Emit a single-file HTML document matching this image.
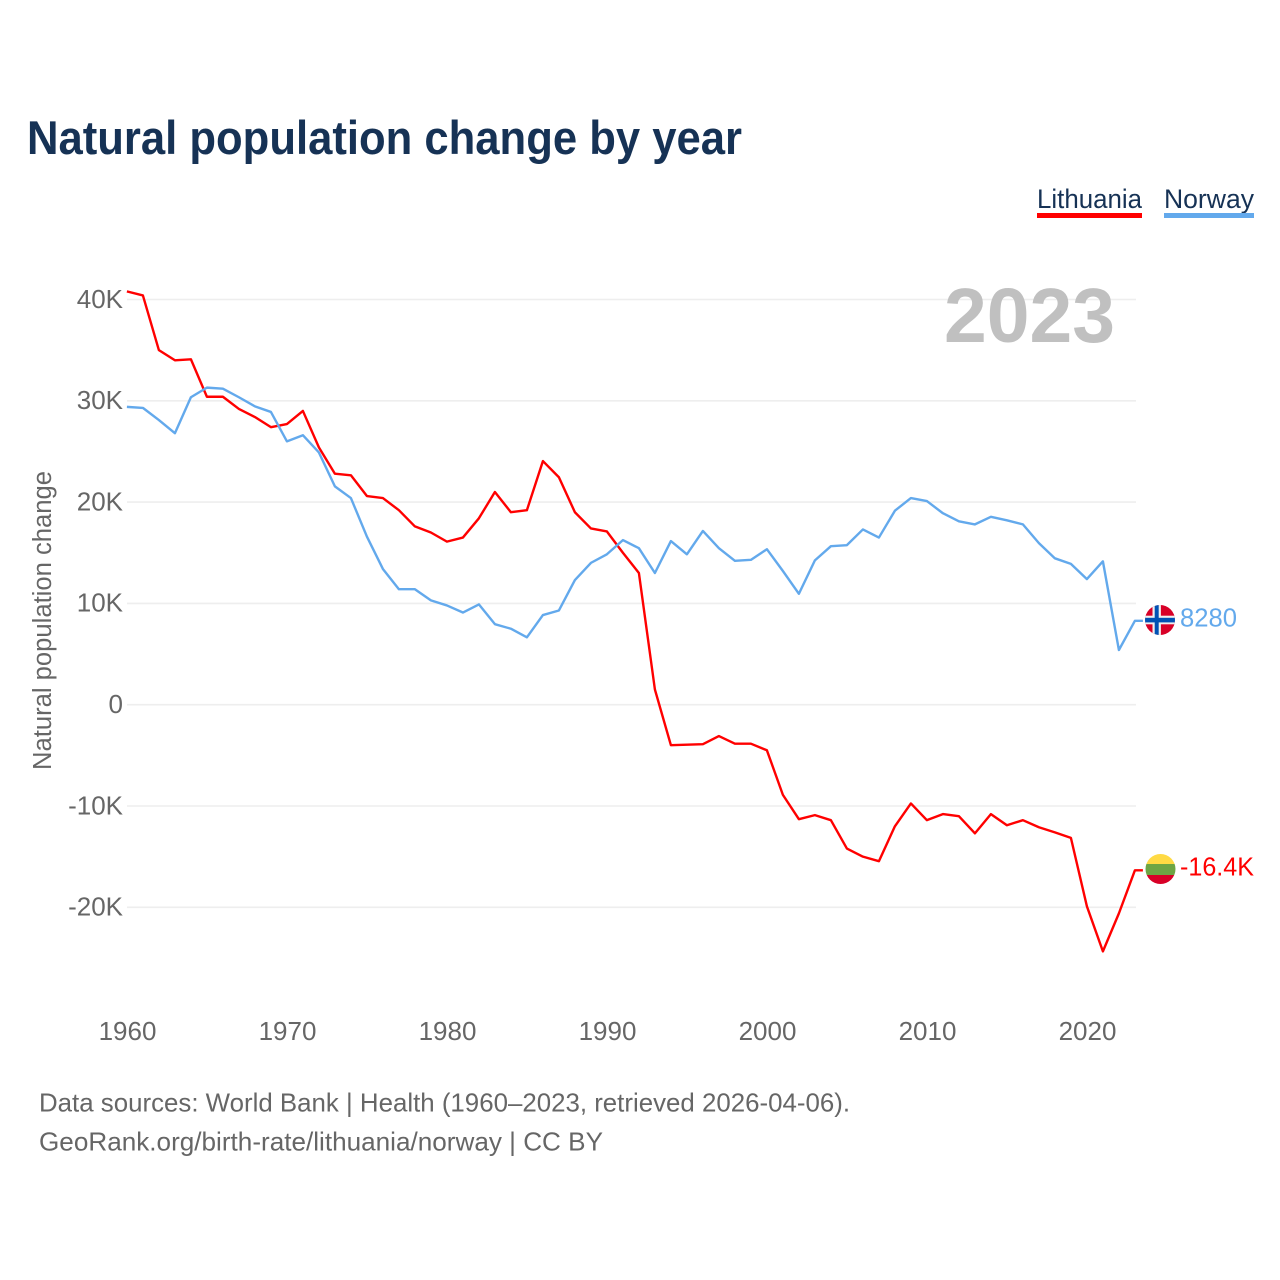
<!DOCTYPE html>
<html lang="en">
<head>
<meta charset="utf-8">
<title>Natural population change by year</title>
<style>
html,body{margin:0;padding:0;background:#fff;width:1280px;height:1280px;overflow:hidden}
svg{display:block}
text{font-family:"Liberation Sans",sans-serif}
</style>
</head>
<body>
<svg id="chart" xmlns="http://www.w3.org/2000/svg" width="1280" height="1280" viewBox="0 0 1280 1280">
  <defs>
    <clipPath id="flag-clip-no"><circle id="clip-no" cx="1160" cy="620" r="15"/></clipPath>
    <clipPath id="flag-clip-lt"><circle id="clip-lt" cx="1160.5" cy="869" r="15"/></clipPath>
  </defs>
  <rect width="1280" height="1280" fill="#fff"/>
  <text x="27" y="154" font-size="47" font-weight="700" fill="#163255" textLength="715" lengthAdjust="spacingAndGlyphs">Natural population change by year</text>

  <g>
    <g>
      <text x="1037" y="208" font-size="27" fill="#163255" textLength="105" lengthAdjust="spacingAndGlyphs">Lithuania</text>
      <rect x="1037" y="213" width="105" height="5" fill="#ff0000"/>
    </g>
    <g>
      <text x="1164" y="208" font-size="27" fill="#163255" textLength="90" lengthAdjust="spacingAndGlyphs">Norway</text>
      <rect x="1164" y="213" width="90" height="5" fill="#63a9ec"/>
    </g>
  </g>

  <g id="grid"></g>
  <g id="y-ticks"></g>
  <g id="x-ticks"></g>

  <text x="944" y="342" font-size="77" font-weight="700" fill="#c0c0c0" textLength="171" lengthAdjust="spacingAndGlyphs">2023</text>

  <text transform="translate(51,770) rotate(-90)" font-size="25.5" fill="#666" textLength="299" lengthAdjust="spacingAndGlyphs">Natural population change</text>

  <g id="series"></g>

  <g clip-path="url(#flag-clip-no)">
    <rect x="1145" y="605" width="31" height="30" fill="#d80027"/>
    <rect x="1145" y="615.7" width="31" height="8.6" fill="#f0f0f0"/>
    <rect x="1152.5" y="605" width="8.4" height="30" fill="#f0f0f0"/>
    <rect x="1145" y="617.8" width="31" height="4.6" fill="#0052b4"/>
    <rect x="1154.7" y="605" width="4" height="30" fill="#0052b4"/>
  </g>
  <g clip-path="url(#flag-clip-lt)">
    <rect x="1145" y="854" width="31" height="10" fill="#ffda44"/>
    <rect x="1145" y="864" width="31" height="11" fill="#6da544"/>
    <rect x="1145" y="875" width="31" height="10" fill="#d80027"/>
  </g>
  <text id="end-label-norway" x="1180" y="626.5" font-size="26" fill="#63a9ec" textLength="57" lengthAdjust="spacingAndGlyphs"></text>
  <text id="end-label-lithuania" x="1180" y="875.5" font-size="26" fill="#ff0000" textLength="74" lengthAdjust="spacingAndGlyphs"></text>

  <g>
    <text x="39" y="1111.5" font-size="26" fill="#666" textLength="811" lengthAdjust="spacingAndGlyphs">Data sources: World Bank | Health (1960–2023, retrieved 2026-04-06).</text>
    <text x="39" y="1150.5" font-size="26" fill="#666" textLength="564" lengthAdjust="spacingAndGlyphs">GeoRank.org/birth-rate/lithuania/norway | CC BY</text>
  </g>
</svg>
<script>
const startYear = 1960;
const lithuania = [40.8,40.4,35.0,34.0,34.1,30.4,30.4,29.2,28.4,27.4,27.7,29.0,25.4,22.8,22.65,20.6,20.4,19.2,17.6,17.0,16.1,16.5,18.4,21.0,19.0,19.2,24.05,22.45,19.0,17.4,17.1,15.0,13.0,1.5,-4.0,-3.95,-3.9,-3.1,-3.85,-3.85,-4.5,-8.9,-11.3,-10.9,-11.4,-14.2,-15.0,-15.45,-12.0,-9.75,-11.4,-10.8,-11.0,-12.7,-10.8,-11.9,-11.4,-12.1,-12.6,-13.15,-19.9,-24.35,-20.6,-16.35];
const norway = [29.4,29.3,28.1,26.8,30.35,31.3,31.2,30.35,29.45,28.9,26.0,26.6,24.9,21.55,20.4,16.6,13.4,11.4,11.4,10.3,9.8,9.1,9.9,7.95,7.5,6.65,8.85,9.3,12.3,14.0,14.85,16.25,15.45,13.0,16.15,14.85,17.15,15.45,14.2,14.3,15.35,13.2,10.95,14.25,15.65,15.75,17.3,16.5,19.15,20.4,20.1,18.9,18.1,17.8,18.55,18.2,17.8,15.95,14.45,13.9,12.4,14.15,5.4,8.28];
const yTickValues = [40,30,20,10,0,-10,-20];
const yTickLabels = ["40K","30K","20K","10K","0","-10K","-20K"];
const xTickYears = [1960,1970,1980,1990,2000,2010,2020];
const endLabelNorway = "8280";
const endLabelLithuania = "-16.4K";

const SVGNS = "http://www.w3.org/2000/svg";
function xScale(year){ return 126.9 + (year - 1960) * 16.0; }
function yScale(v){ return 704.7 - v * 10.13; }

const grid = document.getElementById("grid");
const yTicks = document.getElementById("y-ticks");
const xTicks = document.getElementById("x-ticks");
const seriesGroup = document.getElementById("series");

yTickValues.forEach(function(v, i){
  const line = document.createElementNS(SVGNS, "line");
  
  
  line.setAttribute("x1", 127);
  line.setAttribute("x2", 1136);
  line.setAttribute("y1", yScale(v));
  line.setAttribute("y2", yScale(v));
  line.setAttribute("stroke", "#eeeeee");
  line.setAttribute("stroke-width", 1.6);
  grid.appendChild(line);

  const t = document.createElementNS(SVGNS, "text");
  
  
  t.setAttribute("x", 123);
  t.setAttribute("y", yScale(v) + 8.3);
  t.setAttribute("text-anchor", "end");
  t.setAttribute("font-size", 26);
  t.setAttribute("fill", "#666");
  t.textContent = yTickLabels[i];
  yTicks.appendChild(t);
});

xTickYears.forEach(function(year){
  const t = document.createElementNS(SVGNS, "text");
  
  
  t.setAttribute("x", xScale(year) + 0.6);
  t.setAttribute("y", 1040);
  t.setAttribute("text-anchor", "middle");
  t.setAttribute("font-size", 26);
  t.setAttribute("fill", "#666");
  t.textContent = String(year);
  xTicks.appendChild(t);
});

function pathFor(values){
  const pts = values.map(function(v, i){
    return xScale(startYear + i).toFixed(2) + "," + yScale(v).toFixed(2);
  });
  const lastY = yScale(values[values.length - 1]).toFixed(2);
  const lastX = xScale(startYear + values.length - 1) + 8;
  return "M" + pts.join("L") + "L" + lastX.toFixed(2) + "," + lastY;
}

const lineLithuania = document.createElementNS(SVGNS, "path");


lineLithuania.setAttribute("d", pathFor(lithuania));
lineLithuania.setAttribute("fill", "none");
lineLithuania.setAttribute("stroke", "#ff0000");
lineLithuania.setAttribute("stroke-width", 2.4);
lineLithuania.setAttribute("stroke-linejoin", "round");
seriesGroup.appendChild(lineLithuania);

const lineNorway = document.createElementNS(SVGNS, "path");


lineNorway.setAttribute("d", pathFor(norway));
lineNorway.setAttribute("fill", "none");
lineNorway.setAttribute("stroke", "#63a9ec");
lineNorway.setAttribute("stroke-width", 2.4);
lineNorway.setAttribute("stroke-linejoin", "round");
seriesGroup.appendChild(lineNorway);

document.getElementById("end-label-norway").textContent = endLabelNorway;
document.getElementById("end-label-lithuania").textContent = endLabelLithuania;
</script>
</body>
</html>
